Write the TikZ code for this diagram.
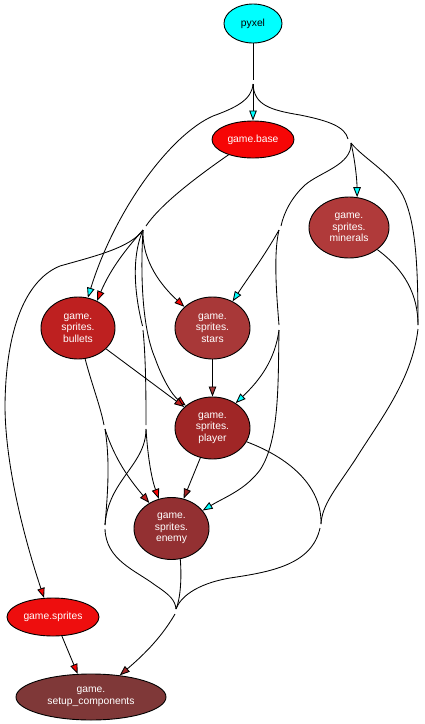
\documentclass[tikz,border=0pt]{standalone}
\usepackage{fontspec}
\setmainfont{Liberation Sans}
\usetikzlibrary{shapes.geometric,arrows.meta}
\definecolor{cPy}{RGB}{0,255,255}
\definecolor{cBase}{RGB}{246,6,6}
\definecolor{cSpr}{RGB}{238,14,14}
\definecolor{cBul}{RGB}{190,32,32}
\definecolor{cMin}{RGB}{176,58,58}
\definecolor{cSta}{RGB}{168,56,56}
\definecolor{cPla}{RGB}{160,38,38}
\definecolor{cEne}{RGB}{147,48,50}
\definecolor{cSet}{RGB}{127,56,56}
\tikzset{
  mod/.style={ellipse, draw=black, line width=0.9pt, inner sep=0pt, align=center,
    text=white, font=\fontsize{10.3}{11.5}\selectfont},
  edge/.style={draw=black, line width=0.85pt},
  arrC/.style={-{Triangle[length=10pt,width=7.5pt,fill=cPy]}},
  arrR/.style={-{Triangle[length=10pt,width=7.5pt,fill=cBase]}},
  arrB/.style={-{Triangle[length=10pt,width=7.5pt,fill=cBul]}},
  arrS/.style={-{Triangle[length=10pt,width=7.5pt,fill=cSta]}},
  arrP/.style={-{Triangle[length=10pt,width=7.5pt,fill=cPla]}},
}
\begin{document}
\begin{tikzpicture}[x=1pt,y=-1pt]
\useasboundingbox[fill=white] (0,0) rectangle (425,724);
% nodes
\node[mod, fill=cPy, text=black, minimum width=58pt, minimum height=39pt] (pyxel) at (253,23.5) {pyxel};
\node[mod, fill=cBase, minimum width=82pt, minimum height=37pt] (base) at (253,139.5) {game.base};
\node[mod, fill=cMin, minimum width=80pt, minimum height=61pt] (minerals) at (349,227.5) {game.\\sprites.\\minerals};
\node[mod, fill=cBul, minimum width=74pt, minimum height=62pt] (bullets) at (78,328) {game.\\sprites.\\bullets};
\node[mod, fill=cSta, minimum width=75pt, minimum height=62pt] (stars) at (212.5,328) {game.\\sprites.\\stars};
\node[mod, fill=cPla, minimum width=75pt, minimum height=62pt] (player) at (212.5,428) {game.\\sprites.\\player};
\node[mod, fill=cEne, minimum width=75pt, minimum height=62pt] (enemy) at (171.5,528.5) {game.\\sprites.\\enemy};
\node[mod, fill=cSpr, minimum width=92pt, minimum height=38pt] (sprites) at (53,617) {game.sprites};
\node[mod, fill=cSet, minimum width=150pt, minimum height=46pt] (setup) at (91,697) {game.\\setup\_components};
% junctions
\coordinate (jpA) at (253,80);  \coordinate (jpB) at (253,84);
\coordinate (jrA) at (348,139); \coordinate (jrB) at (351,143);
\coordinate (jbA) at (146,226); \coordinate (jbB) at (143,230);
\coordinate (jsA) at (281,226); \coordinate (jsB) at (279,230);
\coordinate (jmA) at (418,325); \coordinate (jmB) at (418,329);
\coordinate (jqA) at (279,325); \coordinate (jqB) at (279,330);
\coordinate (jcA) at (142.5,326); \coordinate (jcB) at (143,330);
\coordinate (juA) at (104,425); \coordinate (juB) at (105,429);
\coordinate (jeA) at (146,425); \coordinate (jeB) at (146,429);
\coordinate (jlA) at (105,525); \coordinate (jlB) at (105,529);
\coordinate (jrrA) at (321,524); \coordinate (jrrB) at (320,528);
\coordinate (jfA) at (176,609); \coordinate (jfB) at (175,614);
% edges from pyxel
\draw[edge] (pyxel) -- (jpA);
\draw[edge, arrC] (jpB) -- (base);
\draw[edge, arrC] (jpB) .. controls (252,100) and (235,108) .. (213,116) .. controls (170,135) and (115,210) .. (bullets.72);
\draw[edge] (jpB) .. controls (254,105) and (270,110) .. (300,115) .. controls (330,121) and (345,127) .. (jrA);
\draw[edge, arrC] (jrB) .. controls (355,160) and (357,180) .. (minerals.75);
\draw[edge] (jrB) .. controls (352,165) and (320,172) .. (305,185) .. controls (292,197) and (284,212) .. (jsA);
\draw[edge] (jrB) .. controls (365,160) and (395,175) .. (405,200) .. controls (415,225) and (418,260) .. (jmA);
\draw[edge] (minerals.-38) .. controls (405,270) and (418,295) .. (jmA);
\draw[edge] (jmB) .. controls (412,380) and (380,420) .. (355,460) .. controls (335,490) and (322,505) .. (jrrA);
\draw[edge, arrC] (jsB) .. controls (265,255) and (250,275) .. (stars.53);
\draw[edge] (jsB) .. controls (273,255) and (277,300) .. (jqA);
\draw[edge, arrC] (jqB) .. controls (275,360) and (260,380) .. (player.47);
\draw[edge, arrC] (jqB) .. controls (278,380) and (280,440) .. (260,470) .. controls (245,490) and (225,497) .. (enemy.30);
% edges from game.base
\draw[edge] (base.212) .. controls (195,178) and (160,205) .. (jbA);
\draw[edge, arrR] (jbB) .. controls (125,250) and (110,270) .. (bullets.55);
\draw[edge, arrR] (jbB) .. controls (130,248) and (95,256) .. (60,266) .. controls (30,278) and (6,320) .. (5,405) .. controls (5,470) and (28,550) .. (sprites.115);
\draw[edge, arrR] (jbB) .. controls (142,255) and (155,280) .. (stars.143);
\draw[edge, arrR] (jbB) .. controls (140,280) and (143,330) .. (155,358) .. controls (162,378) and (172,395) .. (player.140);
\draw[edge] (jbB) .. controls (130,260) and (136,300) .. (jcA);
\draw[edge] (jcB) .. controls (146,360) and (146,400) .. (jeA);
\draw[edge, arrR] (jeB) .. controls (148,460) and (152,480) .. (enemy.113);
\draw[edge] (jeB) .. controls (146,465) and (108,480) .. (jlA);
% edges from bullets
\draw[edge, arrB] (bullets) -- (player);
\draw[edge] (bullets.-77) .. controls (92,385) and (100,405) .. (juA);
\draw[edge, arrB] (juB) .. controls (115,460) and (130,480) .. (enemy.131);
\draw[edge] (juB) .. controls (110,460) and (108,490) .. (jlA);
% stars, player, enemy
\draw[edge, arrS] (stars) -- (player);
\draw[edge, arrP] (player) -- (enemy);
\draw[edge] (player.-22) .. controls (295,460) and (322,490) .. (jrrA);
% bottom merge
\draw[edge] (jlB) .. controls (106,560) and (135,570) .. (155,585) .. controls (170,595) and (175,600) .. (jfA);
\draw[edge] (enemy.-74) .. controls (182,580) and (180,600) .. (jfA);
\draw[edge] (jrrB) .. controls (312,565) and (270,572) .. (230,578) .. controls (195,584) and (180,598) .. (jfA);
\draw[edge, arrP] (jfB) .. controls (160,640) and (140,658) .. (setup.37);
\draw[edge, arrR] (sprites.-65) -- (setup.120);
\end{tikzpicture}
\end{document}
